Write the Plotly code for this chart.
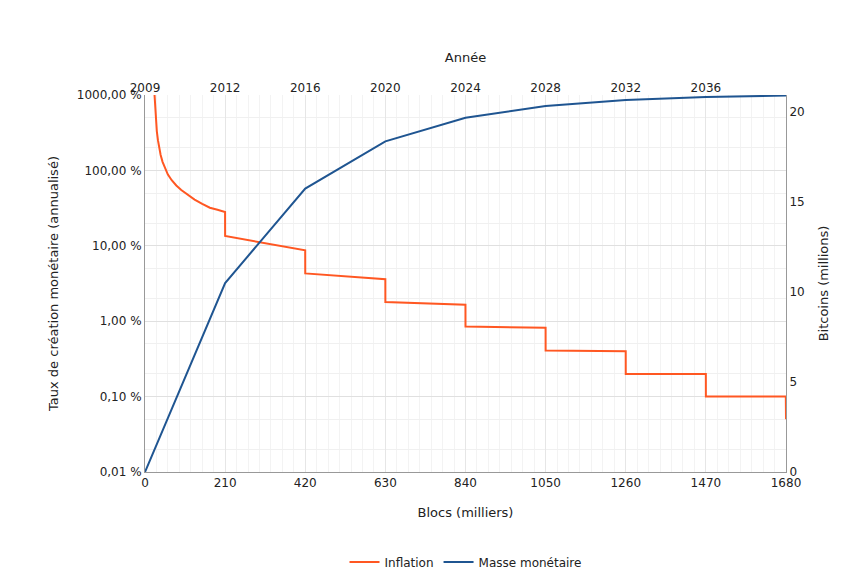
import plotly.graph_objects as go

# inflation (% annualised) vs blocks (thousands)
infl_x = [25, 27, 29, 31, 34, 37, 41, 46, 52, 60, 70, 82, 95, 110, 130, 150, 170, 190, 209.9,
          210, 419.9, 420, 629.9, 630, 839.9, 840, 1049.9, 1050, 1259.9, 1260,
          1469.9, 1470, 1679.5, 1680]
infl_y = [1000, 600, 420, 330, 250, 200, 160, 130, 108, 88, 74, 63, 55, 48, 41, 36, 32, 30, 28,
          13.5, 8.7, 4.3, 3.6, 1.8, 1.65, 0.85, 0.82, 0.41, 0.40, 0.20,
          0.20, 0.10, 0.10, 0.05]

mass_x = [0, 210, 420, 630, 840, 1050, 1260, 1470, 1680]
mass_y = [0, 10.5, 15.75, 18.375, 19.6875, 20.34, 20.67, 20.84, 20.92]

x_ticks = [0, 210, 420, 630, 840, 1050, 1260, 1470, 1680]
year_pos = [0, 210, 420, 630, 840, 1050, 1260, 1470]
year_lbl = ["2009", "2012", "2016", "2020", "2024", "2028", "2032", "2036"]
y_vals = [0.01, 0.1, 1, 10, 100, 1000]
y_lbls = ["0,01 %", "0,10 %", "1,00 %", "10,00 %", "100,00 %", "1000,00 %"]

fig = go.Figure()
fig.add_trace(go.Scatter(x=infl_x, y=infl_y, name="Inflation", mode="lines",
                         line=dict(color="#ff5722", width=2), cliponaxis=False))
fig.add_trace(go.Scatter(x=mass_x, y=mass_y, name="Masse monétaire", mode="lines",
                         line=dict(color="#1f5591", width=2), yaxis="y2"))
fig.add_trace(go.Scatter(x=[0, 1680], y=[None, None], xaxis="x2", showlegend=False,
                         hoverinfo="skip"))

font = dict(family="DejaVu Sans", size=12, color="#222")
tfont = dict(family="DejaVu Sans", size=13, color="#222")
fig.update_layout(
    width=861, height=576, font=font, plot_bgcolor="white", paper_bgcolor="white",
    margin=dict(l=137, r=83, t=87, b=112, autoexpand=False),
    xaxis=dict(range=[0, 1680], tickvals=x_ticks, automargin=False,
               title=dict(text="Blocs (milliers)", standoff=18, font=tfont),
               showgrid=True, gridcolor="#e6e6e6", linecolor="#999", showline=True,
               minor=dict(dtick=30, showgrid=True, gridcolor="#f3f3f3"), zeroline=False),
    xaxis2=dict(range=[0, 1680], overlaying="x", side="top", tickvals=year_pos, automargin=False,
                ticktext=year_lbl, title=dict(text="Année", standoff=15, font=tfont), showgrid=False),
    yaxis=dict(type="log", range=[-2, 3], tickvals=y_vals, ticktext=y_lbls, automargin=False,
               title=dict(text="Taux de création monétaire (annualisé)", font=tfont),
               showgrid=True, gridcolor="#e0e0e0", showline=True, linecolor="#999",
               minor=dict(showgrid=True, gridcolor="#f0f0f0")),
    yaxis2=dict(overlaying="y", side="right", range=[0, 20.95], tickvals=[0, 5, 10, 15, 20],
                title=dict(text="Bitcoins (millions)", font=tfont), automargin=False,
                showgrid=False, showline=True, linecolor="#999", zeroline=False),
    legend=dict(orientation="h", x=0.5, xanchor="center", y=-0.2, yanchor="top"),
)
fig.write_html("out.html")
